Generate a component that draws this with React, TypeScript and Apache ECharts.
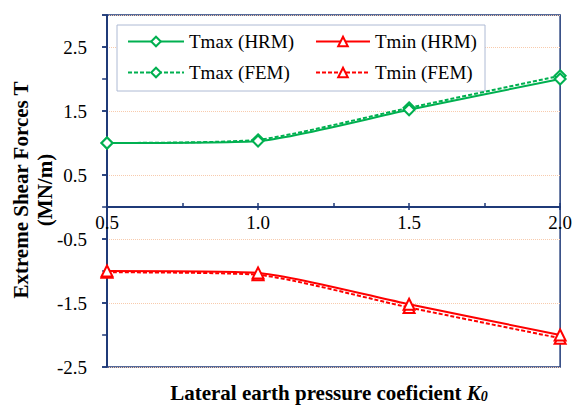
import React, { useEffect, useRef } from "react";
import * as echarts from "echarts";

const kValues = [0.5, 1.0, 1.5, 2.0];
const tmaxHRM = [1.0, 1.03, 1.52, 2.0];
const tmaxFEM = [1.0, 1.05, 1.55, 2.05];
const tminHRM = [-1.0, -1.03, -1.52, -2.0];
const tminFEM = [-1.02, -1.06, -1.57, -2.05];

const FONT = "Liberation Serif";
const NAVY = "#1F3A78";
const GREEN = "#00B050";
const RED = "#FF0000";

function pairs(ys: number[]) {
  return kValues.map((k, i) => [k, ys[i]]);
}

export default function App() {
  const ref = useRef<HTMLDivElement>(null);
  useEffect(() => {
    if (!ref.current) return;
    const chart = echarts.init(ref.current, undefined, { renderer: "svg" });
    const isHalf = (v: number) => Math.abs(v * 2 - Math.round(v * 2)) < 1e-6;
    const oddHalf = (v: number) => Math.abs(Math.round(v * 2)) % 2 === 1;
    const mk = (name: string, ys: number[], color: string, symbol: string, dashed: boolean) => ({
      name,
      type: "line",
      xAxisIndex: 0,
      yAxisIndex: 0,
      data: pairs(ys),
      smooth: 0.2,
      symbol,
      symbolSize: 11,
      showSymbol: true,
      lineStyle: { color, width: 2, type: dashed ? [4, 2] : "solid" },
      itemStyle: { color, borderColor: color, borderWidth: 2 },
      z: dashed ? 3 : 4,
    });
    chart.setOption({
      animation: false,
      grid: {
        left: 107,
        right: 10,
        top: 15,
        bottom: 38,
        show: true,
        borderColor: NAVY,
        borderWidth: 1.5,
        backgroundColor: "transparent",
      },
      xAxis: [
        {
          type: "value",
          min: 0.5,
          max: 2.0,
          interval: 0.5,
          position: "bottom",
          offset: -160,
          axisLine: { show: true, onZero: false, lineStyle: { color: NAVY, width: 2 } },
          axisTick: { show: true, inside: false, length: 3, lineStyle: { color: NAVY, width: 1.5 } },
          axisLabel: {
            color: "#000",
            fontFamily: FONT,
            fontSize: 19,
            margin: 6,
            formatter: (v: number) => (isHalf(v) ? v.toFixed(1) : ""),
          },
          splitLine: { show: false },
        },
        {
          type: "value",
          min: 0.5,
          max: 2.0,
          interval: 0.25,
          position: "top",
          offset: -192,
          axisLine: { show: false, onZero: false },
          axisTick: { show: true, inside: false, length: 4, lineStyle: { color: NAVY, width: 1.5 } },
          axisLabel: { show: false },
          splitLine: { show: false },
        },
      ],
      yAxis: [
        {
          type: "value",
          min: -2.5,
          max: 3.0,
          interval: 1,
          position: "left",
          axisLine: { show: true, onZero: false, lineStyle: { color: NAVY, width: 2 } },
          axisTick: { show: true, inside: false, length: 5, lineStyle: { color: NAVY, width: 1.5 } },
          axisLabel: {
            color: "#000",
            fontFamily: FONT,
            fontSize: 19,
            margin: 20,
            formatter: (v: number) => (oddHalf(v) ? v.toFixed(1) : ""),
          },
          splitLine: { show: true, lineStyle: { color: "#F8CBAD", type: "dotted", width: 1 } },
        },
        {
          type: "value",
          min: -2.5,
          max: 3.0,
          interval: 0.5,
          position: "right",
          offset: -458,
          axisLine: { show: false, onZero: false },
          axisTick: { show: true, inside: false, length: 4, lineStyle: { color: NAVY, width: 1.5 } },
          axisLabel: { show: false },
          splitLine: { show: false },
        },
      ],
      legend: [
        {
          orient: "vertical",
          left: 127,
          top: 32,
          padding: 0,
          itemWidth: 56,
          itemHeight: 12,
          itemGap: 12,
          data: ["Tmax (HRM)", "Tmax (FEM)"],
          textStyle: { color: "#000", fontFamily: FONT, fontSize: 19 },
        },
        {
          orient: "vertical",
          left: 315,
          top: 32,
          padding: 0,
          itemWidth: 54,
          itemHeight: 12,
          itemGap: 12,
          data: ["Tmin (HRM)", "Tmin (FEM)"],
          textStyle: { color: "#000", fontFamily: FONT, fontSize: 19 },
        },
      ],
      graphic: [
        {
          type: "rect",
          z: 3,
          shape: { x: 117, y: 25, width: 368, height: 66 },
          style: { fill: "#fff", stroke: "#AEBAD4", lineWidth: 1 },
        },
        {
          type: "text",
          z: 5,
          x: 33,
          y: 190,
          rotation: Math.PI / 2,
          style: {
            text: "Extreme Shear Forces T\n(MN/m)",
            fill: "#000",
            fontFamily: FONT,
            fontWeight: "bold",
            fontSize: 21,
            lineHeight: 24,
            align: "center",
            verticalAlign: "middle",
          },
        },
        {
          type: "text",
          z: 5,
          x: 329,
          y: 393,
          style: {
            text: "{a|Lateral earth pressure coeficient }{k|K}{s|0}",
            align: "center",
            verticalAlign: "middle",
            rich: {
              a: { fontFamily: FONT, fontWeight: "bold", fontSize: 21, fill: "#000" },
              k: { fontFamily: FONT, fontWeight: "bold", fontStyle: "italic", fontSize: 21, fill: "#000" },
              s: {
                fontFamily: FONT,
                fontWeight: "bold",
                fontStyle: "italic",
                fontSize: 14,
                fill: "#000",
                padding: [6, 0, 0, 0],
              },
            },
          },
        },
      ],
      series: [
        mk("Tmax (HRM)", tmaxHRM, GREEN, "emptyDiamond", false),
        mk("Tmax (FEM)", tmaxFEM, GREEN, "emptyDiamond", true),
        mk("Tmin (HRM)", tminHRM, RED, "emptyTriangle", false),
        mk("Tmin (FEM)", tminFEM, RED, "emptyTriangle", true),
      ],
    });
    return () => chart.dispose();
  }, []);
  return <div ref={ref} style={{ width: 575, height: 405, position: "absolute", left: 0, top: 0 }} />;
}
